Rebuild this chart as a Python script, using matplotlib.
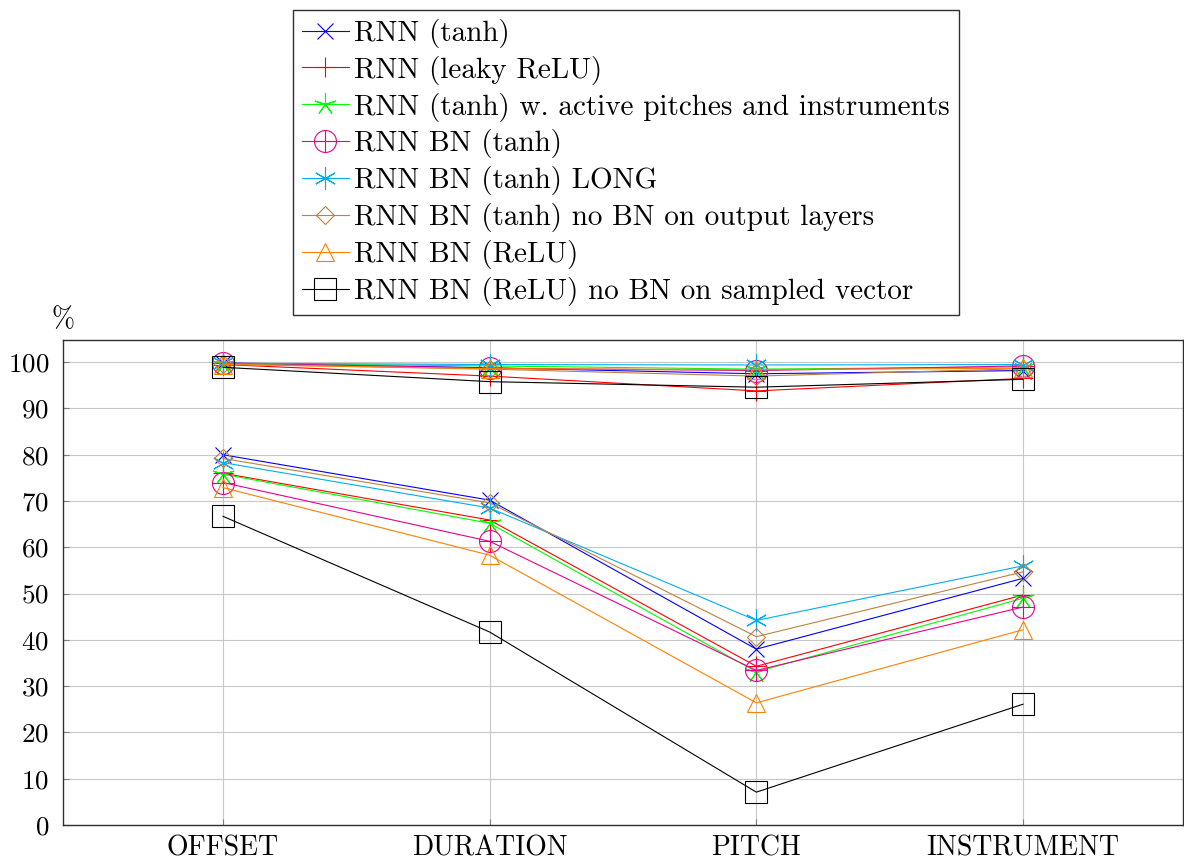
import matplotlib
matplotlib.use("Agg")
import matplotlib.pyplot as plt
from matplotlib.path import Path
import numpy as np

plt.rcParams['font.family'] = 'serif'
plt.rcParams['font.serif'] = ['cmr10']
plt.rcParams['mathtext.fontset'] = 'cm'
plt.rcParams['axes.unicode_minus'] = False
plt.rcParams['axes.formatter.use_mathtext'] = True

categories = ["OFFSET", "DURATION", "PITCH", "INSTRUMENT"]
labels = [
    "RNN (tanh)",
    "RNN (leaky ReLU)",
    "RNN (tanh) w. active pitches and instruments",
    "RNN BN (tanh)",
    "RNN BN (tanh) LONG",
    "RNN BN (tanh) no BN on output layers",
    "RNN BN (ReLU)",
    "RNN BN (ReLU) no BN on sampled vector",
]
# upper group (near 100 %)
upper_tanh = [99.8, 98.8, 97.5, 98.2]
upper_leaky = [99.5, 97.0, 93.8, 96.5]
upper_active = [99.7, 99.2, 98.5, 99.0]
upper_bn_tanh = [99.9, 98.7, 98.2, 99.2]
upper_bn_long = [99.8, 99.5, 99.4, 99.5]
upper_bn_noout = [99.6, 98.5, 97.0, 98.6]
upper_bn_relu = [99.5, 98.6, 98.4, 98.7]
upper_bn_relu_nosamp = [98.9, 95.8, 94.6, 96.3]
# lower group
lower_tanh = [80.0, 70.2, 38.0, 53.3]
lower_leaky = [76.0, 65.9, 34.3, 49.7]
lower_active = [75.8, 65.2, 33.1, 49.0]
lower_bn_tanh = [74.0, 61.3, 33.4, 47.1]
lower_bn_long = [78.3, 68.5, 44.2, 56.0]
lower_bn_noout = [79.2, 69.6, 40.7, 54.7]
lower_bn_relu = [72.9, 58.3, 26.4, 42.2]
lower_bn_relu_nosamp = [66.7, 41.7, 7.1, 26.1]

upper = [upper_tanh, upper_leaky, upper_active, upper_bn_tanh,
         upper_bn_long, upper_bn_noout, upper_bn_relu, upper_bn_relu_nosamp]
lower = [lower_tanh, lower_leaky, lower_active, lower_bn_tanh,
         lower_bn_long, lower_bn_noout, lower_bn_relu, lower_bn_relu_nosamp]

oplus = Path.make_compound_path(
    Path.unit_circle(),
    Path([[-1, 0], [1, 0]], [Path.MOVETO, Path.LINETO]),
    Path([[0, -1], [0, 1]], [Path.MOVETO, Path.LINETO]),
)

colors = ["#0000ff", "#ff0000", "#00ff00", "#ec008c",
          "#00aeef", "#bf8040", "#ff8000", "#000000"]
markers = ["x", "+", (5, 2, 0), oplus, (6, 2, 0), "D", "^", "s"]
msizes = [11, 15, 16, 15.8, 16, 9, 13.5, 15.8]

fig = plt.figure(figsize=(11.84, 8.6), dpi=100)
ax = fig.add_axes([63/1184, 1-825/860, (1183-63)/1184, (825-340)/860])

x = np.arange(len(categories))
handles = []
for i in range(len(labels)):
    h, = ax.plot(x, lower[i], color=colors[i], marker=markers[i], ms=msizes[i],
                 mfc='none', mec=colors[i], mew=0.8, lw=0.8, label=labels[i])
    ax.plot(x, upper[i], color=colors[i], marker=markers[i], ms=msizes[i],
            mfc='none', mec=colors[i], mew=0.8, lw=0.8, label='_nolegend_')
    handles.append(h)

ax.set_xlim(-0.6, 3.6)
ax.set_ylim(0, 104.8)
ax.set_xticks(x)
ax.set_xticklabels(categories)
ax.set_yticks(np.arange(0, 101, 10))
ax.grid(True, color='#c8c8c8', lw=0.8)
ax.set_axisbelow(True)
ax.tick_params(axis='both', labelsize=20, direction='in', length=4,
               color='#808080', width=0.8)
ax.tick_params(axis='y', pad=10, labelsize=19.5)
ax.tick_params(axis='x', pad=7)
for s in ax.spines.values():
    s.set_color('#303030')
    s.set_linewidth(1.0)

fig.text(63/1184, 1-320/860, "%", fontsize=20, ha='center', va='center')

leg = fig.legend(handles=handles, loc='upper center',
                 bbox_to_anchor=(626/1184, 1-10/860), fontsize=21,
                 frameon=True, fancybox=False, edgecolor='#303030',
                 framealpha=1, handlelength=1.6, handletextpad=0.2,
                 labelspacing=0.27, borderpad=0.3, borderaxespad=0)
leg.get_frame().set_linewidth(1.0)

fig.savefig("out.png", dpi=100)
